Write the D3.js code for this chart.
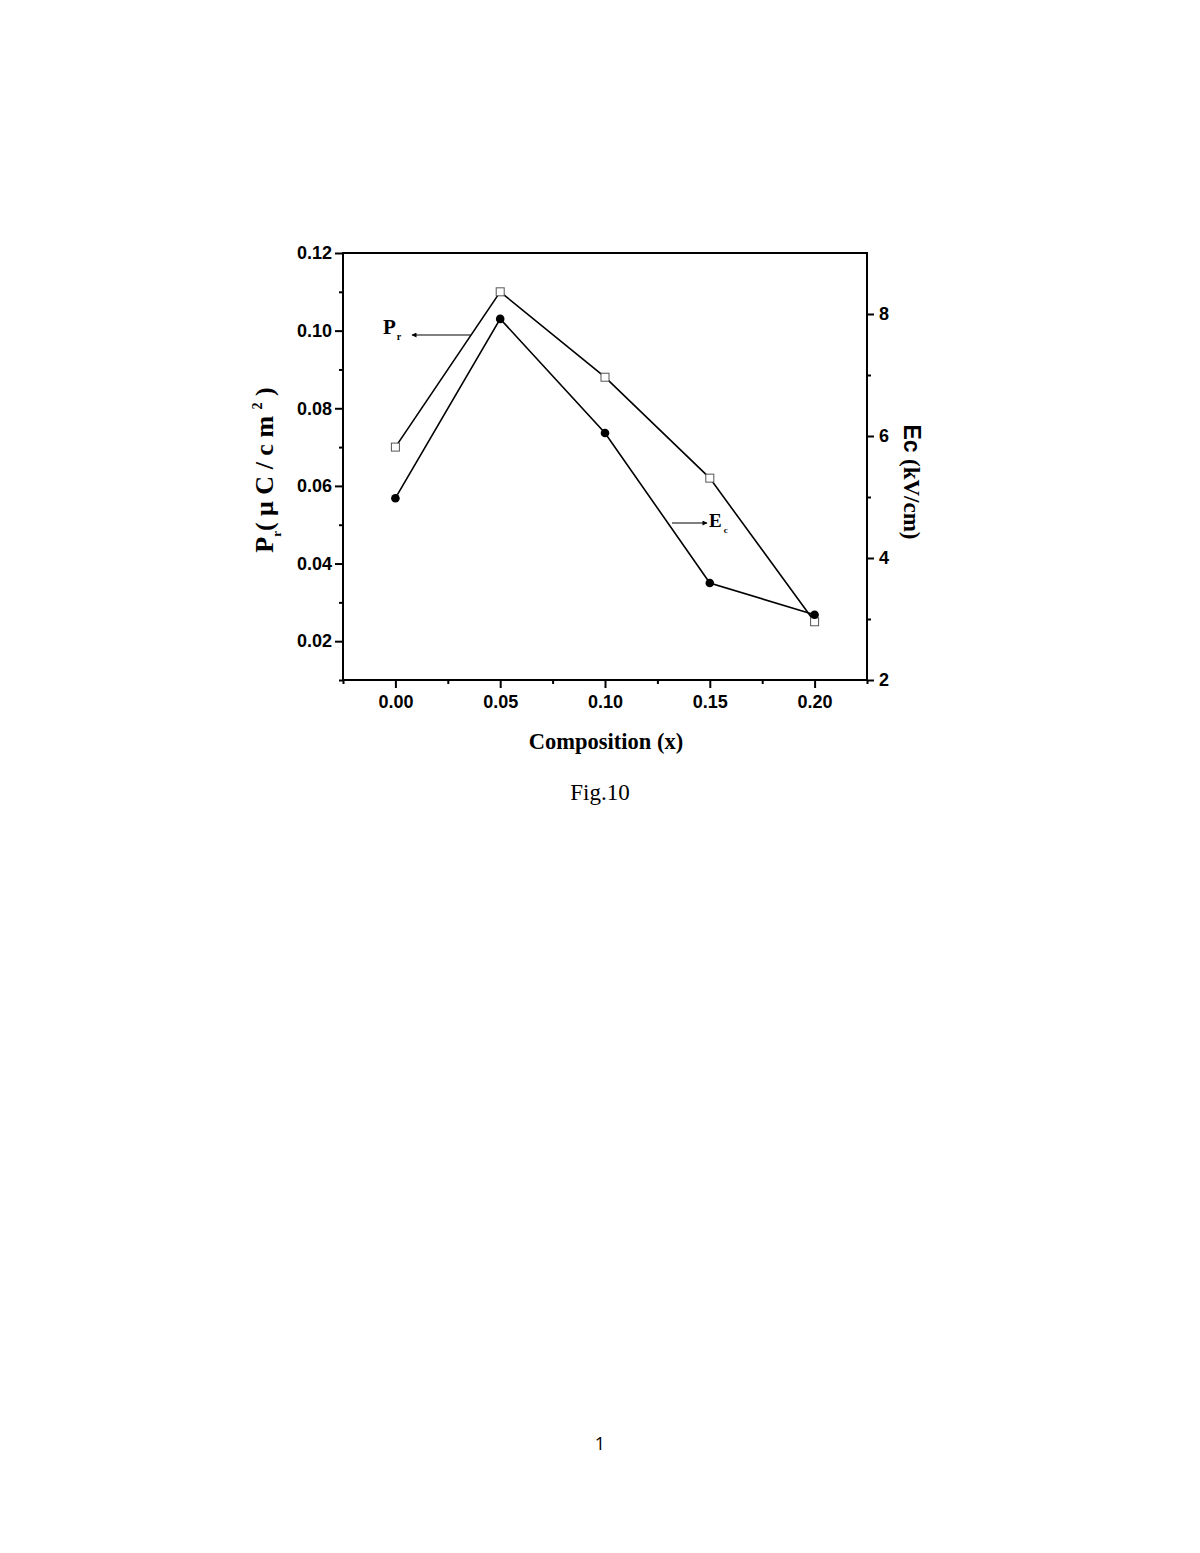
<!DOCTYPE html>
<html>
<head>
<meta charset="utf-8">
<script src="https://cdn.jsdelivr.net/npm/d3@7"></script>
<style>
  body { margin: 0; background: #fff; }
</style>
</head>
<body>
<script>
// data
var composition = [0.00, 0.05, 0.10, 0.15, 0.20];
var prValues = [0.070, 0.110, 0.088, 0.062, 0.025];   // open squares, left axis
var ecValues = [4.98, 7.92, 6.05, 3.59, 3.07];         // filled circles, right axis
var xTicks = [0.00, 0.05, 0.10, 0.15, 0.20];
var xMinor = [-0.025, 0.025, 0.075, 0.125, 0.175, 0.225];
var leftTicks = [0.02, 0.04, 0.06, 0.08, 0.10, 0.12];
var leftMinor = [0.01, 0.03, 0.05, 0.07, 0.09, 0.11];
var rightTicks = [2, 4, 6, 8];
var rightMinor = [3, 5, 7];

var svg = d3.select('body').append('svg')
    .attr('width', 1200)
    .attr('height', 1553);

// plot frame
var frame = {left: 343, right: 867, top: 253, bottom: 680};

var x = d3.scaleLinear().domain([-0.025, 0.225]).range([frame.left, frame.right]);
var yL = d3.scaleLinear().domain([0.01, 0.12]).range([frame.bottom, frame.top]);
var yR = d3.scaleLinear().domain([2, 9]).range([frame.bottom, frame.top]);

var tickFont = 'Liberation Sans, Arial, sans-serif';
var serif = 'Liberation Serif, Times New Roman, serif';

// frame box
svg.append('rect')
    .attr('x', frame.left).attr('y', frame.top)
    .attr('width', frame.right - frame.left)
    .attr('height', frame.bottom - frame.top)
    .attr('fill', 'none').attr('stroke', '#000').attr('stroke-width', 2);

function styleAxis(g) {
    g.select('.domain').remove();
    g.selectAll('line').attr('stroke', '#000').attr('stroke-width', 2);
    g.selectAll('text')
        .attr('fill', '#000')
        .style('font-family', tickFont)
        .style('font-weight', 'bold')
        .style('font-size', '18px');
}

// bottom axis
svg.append('g')
    .attr('transform', 'translate(0,' + frame.bottom + ')')
    .call(d3.axisBottom(x).tickValues(xTicks).tickSize(8).tickPadding(7).tickFormat(d3.format('.2f')))
    .call(styleAxis);
svg.append('g')
    .attr('transform', 'translate(0,' + frame.bottom + ')')
    .call(d3.axisBottom(x).tickValues(xMinor).tickSize(4).tickFormat(''))
    .call(styleAxis);

// left axis
svg.append('g')
    .attr('transform', 'translate(' + frame.left + ',0)')
    .call(d3.axisLeft(yL).tickValues(leftTicks).tickSize(8).tickPadding(3).tickFormat(d3.format('.2f')))
    .call(styleAxis);
svg.append('g')
    .attr('transform', 'translate(' + frame.left + ',0)')
    .call(d3.axisLeft(yL).tickValues(leftMinor).tickSize(4).tickFormat(''))
    .call(styleAxis);

// right axis
svg.append('g')
    .attr('transform', 'translate(' + frame.right + ',0)')
    .call(d3.axisRight(yR).tickValues(rightTicks).tickSize(7).tickPadding(5).tickFormat(d3.format('d')))
    .call(styleAxis);
svg.append('g')
    .attr('transform', 'translate(' + frame.right + ',0)')
    .call(d3.axisRight(yR).tickValues(rightMinor).tickSize(4).tickFormat(''))
    .call(styleAxis);

// series lines
var prLine = d3.line().x(function(d, i) { return x(composition[i]); }).y(function(d) { return yL(d); });
var ecLine = d3.line().x(function(d, i) { return x(composition[i]); }).y(function(d) { return yR(d); });

svg.append('path').datum(prValues).attr('d', prLine)
    .attr('fill', 'none').attr('stroke', '#000').attr('stroke-width', 1.6);
svg.append('path').datum(ecValues).attr('d', ecLine)
    .attr('fill', 'none').attr('stroke', '#000').attr('stroke-width', 1.6);

// markers
svg.selectAll('rect.pr').data(prValues).enter().append('rect')
    .attr('class', 'pr')
    .attr('x', function(d, i) { return x(composition[i]) - 4; })
    .attr('y', function(d) { return yL(d) - 4; })
    .attr('width', 8).attr('height', 8)
    .attr('fill', '#fff').attr('stroke', '#555').attr('stroke-width', 1);

svg.selectAll('circle.ec').data(ecValues).enter().append('circle')
    .attr('class', 'ec')
    .attr('cx', function(d, i) { return x(composition[i]); })
    .attr('cy', function(d) { return yR(d); })
    .attr('r', 4.3)
    .attr('fill', '#000');

// arrow marker
svg.append('defs').append('marker')
    .attr('id', 'arr')
    .attr('viewBox', '0 0 10 10')
    .attr('refX', 9).attr('refY', 5)
    .attr('markerWidth', 8).attr('markerHeight', 5)
    .attr('markerUnits', 'userSpaceOnUse')
    .attr('orient', 'auto')
    .append('path').attr('d', 'M0,0 L10,5 L0,10 Z').attr('fill', '#000');

// Pr annotation
svg.append('line')
    .attr('x1', 471).attr('y1', 335).attr('x2', 412).attr('y2', 335)
    .attr('stroke', '#000').attr('stroke-width', 1)
    .attr('marker-end', 'url(#arr)');
var prLab = svg.append('text')
    .attr('x', 383).attr('y', 334)
    .style('font-family', serif).style('font-weight', 'bold').style('font-size', '21px');
prLab.append('tspan').text('P');
prLab.append('tspan').attr('dx', 1).attr('dy', 6).style('font-size', '10px').text('r');

// Ec annotation
svg.append('line')
    .attr('x1', 672).attr('y1', 523).attr('x2', 707).attr('y2', 523)
    .attr('stroke', '#000').attr('stroke-width', 1.2)
    .attr('marker-end', 'url(#arr)');
var ecLab = svg.append('text')
    .attr('x', 709).attr('y', 527)
    .style('font-family', serif).style('font-weight', 'bold').style('font-size', '19px');
ecLab.append('tspan').text('E');
ecLab.append('tspan').attr('dx', 2).attr('dy', 6).style('font-size', '9px').text('c');

// left axis title
var yTitle = svg.append('text')
    .attr('transform', 'translate(273,470)rotate(-90)')
    .attr('text-anchor', 'middle')
    .style('font-family', serif).style('font-weight', 'bold').style('font-size', '26px');
yTitle.append('tspan').text('P');
yTitle.append('tspan').attr('dy', 8).style('font-size', '13px').text('r');
yTitle.append('tspan').attr('dy', -8).text('( \u03BC C / c m ');
yTitle.append('tspan').attr('dy', -11).style('font-size', '14px').text('2');
yTitle.append('tspan').attr('dy', 11).text(' )');

// right axis title
var rTitle = svg.append('text')
    .attr('transform', 'translate(904,482)rotate(90)')
    .attr('text-anchor', 'middle')
    .style('font-weight', 'bold').style('font-size', '23px');
rTitle.append('tspan').style('font-family', tickFont).text('Ec ');
rTitle.append('tspan').style('font-family', serif).text('(kV/cm)');

// x axis title
svg.append('text')
    .attr('x', 606).attr('y', 749)
    .attr('text-anchor', 'middle')
    .style('font-family', serif).style('font-weight', 'bold').style('font-size', '22.5px')
    .text('Composition (x)');

// caption and page number
svg.append('text')
    .attr('x', 600).attr('y', 800)
    .attr('text-anchor', 'middle')
    .style('font-family', serif).style('font-size', '23px')
    .text('Fig.10');

svg.append('text')
    .attr('x', 600).attr('y', 1450)
    .attr('text-anchor', 'middle')
    .style('font-family', 'Open Sans, sans-serif').style('font-size', '18px')
    .text('1');
</script>
</body>
</html>
